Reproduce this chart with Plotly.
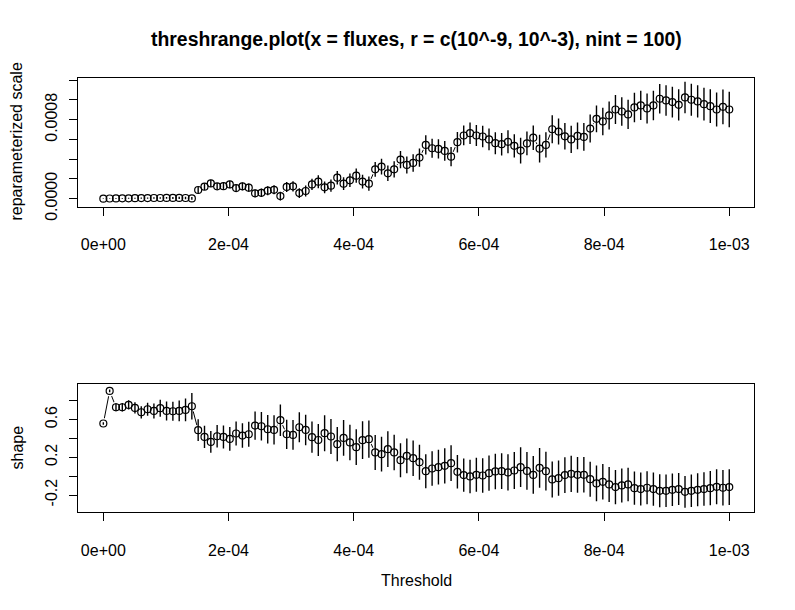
import numpy as np
import plotly.graph_objects as go

# threshold grid: r = c(10^-9, 10^-3), nint = 100
r_lo, r_hi, nint = 1e-9, 1e-3, 100
thresholds = np.linspace(r_lo, r_hi, nint)

# reparameterized scale estimates and CI half widths
scale = [
    0.000000, 0.000002, 0.000003, 0.000004, 0.000004, 0.000005, 0.000006, 0.000006, 0.000007, 0.000007,
    0.000008, 0.000008, 0.000008, 0.000007, 0.000003, 0.000088, 0.000122, 0.000155, 0.000125, 0.000127,
    0.000145, 0.000108, 0.000125, 0.000112, 0.000054, 0.000060, 0.000081, 0.000090, 0.000027, 0.000119,
    0.000125, 0.000057, 0.000078, 0.000145, 0.000172, 0.000115, 0.000132, 0.000213, 0.000152, 0.000186,
    0.000233, 0.000173, 0.000152, 0.000297, 0.000325, 0.000257, 0.000297, 0.000396, 0.000342, 0.000362,
    0.000416, 0.000545, 0.000511, 0.000504, 0.000484, 0.000426, 0.000572, 0.000640, 0.000663, 0.000640,
    0.000630, 0.000600, 0.000562, 0.000552, 0.000576, 0.000535, 0.000487, 0.000560, 0.000618, 0.000507,
    0.000545, 0.000703, 0.000680, 0.000632, 0.000600, 0.000636, 0.000626, 0.000710, 0.000809, 0.000782,
    0.000843, 0.000903, 0.000883, 0.000853, 0.000924, 0.000944, 0.000914, 0.000944, 0.001012, 0.000995,
    0.000978, 0.000951, 0.001025, 0.001002, 0.000985, 0.000957, 0.000937, 0.000903, 0.000930, 0.000903,
]
scale_err = [
    0.000002, 0.000003, 0.000003, 0.000004, 0.000005, 0.000005, 0.000006, 0.000007, 0.000008, 0.000008,
    0.000009, 0.000010, 0.000011, 0.000012, 0.000014, 0.000030, 0.000035, 0.000036, 0.000034, 0.000036,
    0.000038, 0.000037, 0.000040, 0.000041, 0.000040, 0.000043, 0.000045, 0.000046, 0.000044, 0.000050,
    0.000052, 0.000050, 0.000055, 0.000058, 0.000066, 0.000060, 0.000062, 0.000068, 0.000064, 0.000068,
    0.000072, 0.000070, 0.000072, 0.000075, 0.000080, 0.000078, 0.000082, 0.000088, 0.000086, 0.000088,
    0.000092, 0.000098, 0.000096, 0.000098, 0.000100, 0.000098, 0.000104, 0.000100, 0.000108, 0.000106,
    0.000108, 0.000110, 0.000112, 0.000114, 0.000116, 0.000118, 0.000130, 0.000120, 0.000124, 0.000140,
    0.000128, 0.000142, 0.000132, 0.000134, 0.000138, 0.000136, 0.000140, 0.000142, 0.000135, 0.000140,
    0.000142, 0.000146, 0.000144, 0.000148, 0.000150, 0.000148, 0.000152, 0.000150, 0.000149, 0.000154,
    0.000156, 0.000158, 0.000160, 0.000162, 0.000164, 0.000166, 0.000170, 0.000172, 0.000176, 0.000180,
]

# shape estimates and CI half widths
shape = [
    0.558, 0.903, 0.730, 0.730, 0.755, 0.723, 0.677, 0.709, 0.691, 0.720,
    0.691, 0.688, 0.691, 0.702, 0.741, 0.487, 0.416, 0.363, 0.423, 0.416,
    0.395, 0.452, 0.430, 0.444, 0.536, 0.529, 0.497, 0.490, 0.593, 0.444,
    0.437, 0.518, 0.490, 0.413, 0.383, 0.455, 0.420, 0.339, 0.405, 0.357,
    0.307, 0.381, 0.392, 0.251, 0.233, 0.286, 0.251, 0.169, 0.215, 0.190,
    0.148, 0.053, 0.081, 0.095, 0.109, 0.138, 0.046, 0.011, -0.003, 0.014,
    0.007, 0.032, 0.050, 0.053, 0.039, 0.060, 0.095, 0.055, 0.013, 0.088,
    0.053, -0.035, -0.021, 0.011, 0.025, 0.014, 0.014, -0.032, -0.077, -0.060,
    -0.088, -0.116, -0.098, -0.088, -0.127, -0.137, -0.123, -0.137, -0.155, -0.155,
    -0.145, -0.137, -0.166, -0.155, -0.145, -0.137, -0.127, -0.113, -0.123, -0.116,
]
shape_err = [
    0.012, 0.015, 0.042, 0.045, 0.050, 0.060, 0.065, 0.070, 0.080, 0.090,
    0.100, 0.100, 0.110, 0.120, 0.140, 0.115, 0.118, 0.116, 0.120, 0.122,
    0.125, 0.128, 0.130, 0.132, 0.150, 0.150, 0.152, 0.155, 0.167, 0.155,
    0.158, 0.160, 0.162, 0.165, 0.170, 0.190, 0.185, 0.182, 0.190, 0.188,
    0.190, 0.200, 0.198, 0.185, 0.185, 0.190, 0.188, 0.180, 0.185, 0.188,
    0.186, 0.180, 0.182, 0.184, 0.186, 0.190, 0.178, 0.176, 0.178, 0.180,
    0.182, 0.186, 0.188, 0.190, 0.192, 0.195, 0.210, 0.200, 0.200, 0.210,
    0.205, 0.190, 0.188, 0.190, 0.192, 0.190, 0.188, 0.185, 0.190, 0.188,
    0.185, 0.182, 0.180, 0.178, 0.176, 0.175, 0.175, 0.176, 0.174, 0.172,
    0.172, 0.170, 0.168, 0.172, 0.175, 0.178, 0.182, 0.185, 0.188, 0.190,
]

FONT = "Liberation Sans, Arial, sans-serif"
W, H = 779, 600
# measured on the photographed page: x = fig x + 8, y = 0.9736 * fig y + 8.9
X_OFF, Y_OFF, Y_K = 8, 8.9, 0.9736


def px_x(px):
    return (px - X_OFF) / W


def px_y(py):
    return 1 - ((py - Y_OFF) / Y_K) / H


def add_panel(fig, y, err, xa, ya):
    # R type="b": line behind, white mask so the line breaks at the points
    fig.add_trace(go.Scatter(x=thresholds, y=y, mode="lines", xaxis=xa, yaxis=ya,
                             line=dict(color="black", width=1), hoverinfo="skip"))
    fig.add_trace(go.Scatter(x=thresholds, y=y, mode="markers", xaxis=xa, yaxis=ya,
                             marker=dict(color="white", size=11, line=dict(width=0)),
                             hoverinfo="skip"))
    fig.add_trace(go.Scatter(x=thresholds, y=y, mode="markers", xaxis=xa, yaxis=ya,
                             marker=dict(symbol="circle-open", color="black", size=7,
                                         line=dict(width=1.2, color="black")),
                             error_y=dict(type="data", array=err, visible=True,
                                          color="black", thickness=1.4, width=0)))


fig = go.Figure()
add_panel(fig, scale, scale_err, "x", "y")
add_panel(fig, shape, shape_err, "x2", "y2")

xticks = [0, 2e-4, 4e-4, 6e-4, 8e-4, 1e-3]
xlabels = ["0e+00", "2e-04", "4e-04", "6e-04", "8e-04", "1e-03"]
xdom = [px_x(78.3), px_x(754.3)]
axis_common = dict(showline=True, linecolor="black", linewidth=1, mirror=True,
                   ticks="outside", ticklen=8, tickcolor="black", tickwidth=1,
                   showgrid=False, zeroline=False,
                   tickfont=dict(family=FONT, size=16, color="black"))

fig.update_layout(
    width=W, height=H,
    margin=dict(l=0, r=0, t=0, b=0),
    paper_bgcolor="white", plot_bgcolor="white",
    showlegend=False,
    xaxis=dict(domain=xdom, range=[-0.00004, 0.00104], tickvals=xticks, ticktext=xlabels,
               anchor="y", ticklabelstandoff=15, **axis_common),
    yaxis=dict(domain=[px_y(207), px_y(78.3)], range=[-0.0000812, 0.001226],
               tickvals=[0, 0.0002, 0.0004, 0.0006, 0.0008, 0.0010, 0.0012],
               ticktext=["0.0000", "", "", "", "0.0008", "", ""],
               tickangle=-90, anchor="x", ticklabelstandoff=6, **axis_common),
    xaxis2=dict(domain=xdom, range=[-0.00004, 0.00104], tickvals=xticks, ticktext=xlabels,
                anchor="y2", ticklabelstandoff=15, **axis_common),
    yaxis2=dict(domain=[px_y(511.7), px_y(383.3)], range=[-0.384, 0.981],
                tickvals=[-0.2, 0.0, 0.2, 0.4, 0.6, 0.8],
                ticktext=["-0.2", "", "0.2", "", "0.6", ""],
                tickangle=-90, anchor="x2", ticklabelstandoff=6, **axis_common),
)

ann = dict(xref="paper", yref="paper", showarrow=False, xanchor="center", yanchor="middle")
fig.add_annotation(text="<b>threshrange.plot(x = fluxes, r = c(10^-9, 10^-3), nint = 100)</b>",
                   x=px_x(416), y=px_y(40), font=dict(family=FONT, size=19.4, color="black"), **ann)
fig.add_annotation(text="reparameterized scale", x=px_x(17), y=px_y(142), textangle=-90,
                   font=dict(family=FONT, size=16, color="black"), **ann)
fig.add_annotation(text="shape", x=px_x(17), y=px_y(447), textangle=-90,
                   font=dict(family=FONT, size=16, color="black"), **ann)
fig.add_annotation(text="Threshold", x=px_x(416), y=px_y(580),
                   font=dict(family=FONT, size=16, color="black"), **ann)

fig.write_html("out.html")
